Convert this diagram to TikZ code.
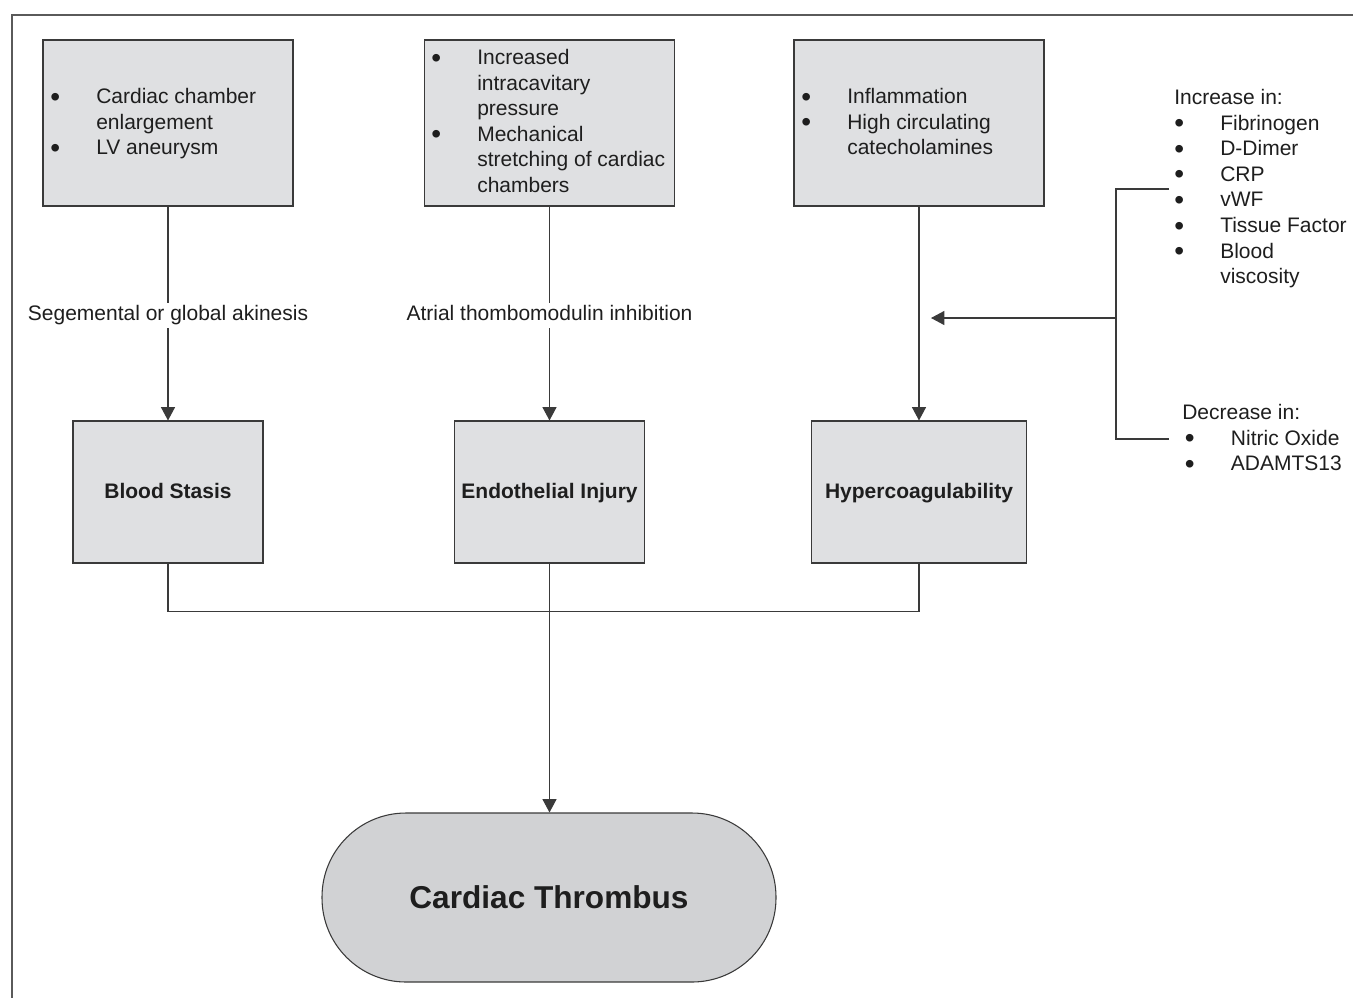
\documentclass[tikz,border=0pt]{standalone}
\usepackage{fontspec}
\setmainfont{Liberation Sans}
\usetikzlibrary{arrows.meta}
\definecolor{boxfill}{HTML}{DFE0E2}
\definecolor{thfill}{HTML}{D1D2D4}
\definecolor{edge}{HTML}{3A3A3A}
\definecolor{ink}{HTML}{1E1E1E}
\definecolor{framec}{HTML}{5A5A5A}
\newcommand\blist[1]{\begin{tabular}[t]{@{}p{34.5pt}@{}l@{}}#1\end{tabular}}
\newcommand\bul{\raisebox{-1.9pt}{\fontsize{21}{21}\selectfont •}}
\begin{document}
\begin{tikzpicture}[x=0.75pt,y=-0.75pt,
  every node/.style={font=\fontsize{15.75}{19.2}\selectfont, text=ink},
  box/.style={draw=edge, fill=boxfill, line width=0.8pt, inner sep=0pt, rectangle},
  list/.style={anchor=base west, inner sep=0pt},
  lbl/.style={font=\fontsize{15.75}{19.2}\selectfont\bfseries, text height=11.4pt, text depth=1.5pt},
  conn/.style={draw=edge, line width=0.8pt},
  arr/.style={conn, -{Triangle[length=10pt,width=10.5pt]}},
  onl/.style={fill=white, inner sep=2pt, text height=11.4pt, text depth=3.3pt, yshift=-1.5pt}
]
\useasboundingbox (0,0) rectangle (1353,997);
\clip (0,0) rectangle (1353,997);
\draw[framec, line width=1.5pt] (12,15) rectangle (1380,1020);

% top boxes
\node[box, minimum width=187.5pt, minimum height=124.5pt] (b1) at (168,123) {};
\node[box, minimum width=187.5pt, minimum height=124.5pt] (b2) at (549.5,123) {};
\node[box, minimum width=187.5pt, minimum height=124.5pt] (b3) at (919,123) {};

\node[list] (t1) at (50,103.5) {\blist{\bul & Cardiac chamber\\ & enlargement\\ \bul & LV aneurysm}};
\node[list] (t2) at (431,64.5) {\blist{\bul & Increased\\ & intracavitary\\ & pressure\\ \bul & Mechanical\\ & stretching of cardiac\\ & chambers}};
\node[list] (t3) at (801,103.5) {\blist{\bul & Inflammation\\ \bul & High circulating\\ & catecholamines}};

% middle boxes
\node[box, lbl, minimum width=142.5pt, minimum height=106.5pt] (b4) at (168,492) {Blood Stasis};
\node[box, lbl, minimum width=142.5pt, minimum height=106.5pt] (b5) at (549.5,492) {Endothelial Injury};
\node[box, lbl, minimum width=161.25pt, minimum height=106.5pt] (b6) at (919,492) {Hypercoagulability};

% thrombus
\node[draw=edge, fill=thfill, line width=0.8pt, rounded corners=63pt,
      minimum width=340.5pt, minimum height=126.75pt, inner sep=0pt,
      font=\fontsize{23.7}{28}\selectfont\bfseries] (th) at (549,897.5) {Cardiac Thrombus};

% right lists
\node[list] (inc) at (1174,104.5) {\blist{\multicolumn{2}{@{}l@{}}{Increase in:}\\ \bul & Fibrinogen\\ \bul & D-Dimer\\ \bul & CRP\\ \bul & vWF\\ \bul & Tissue Factor\\ \bul & Blood\\ & viscosity}};
\node[list] (dec) at (1182,419.5) {\blist{\multicolumn{2}{@{}l@{}}{Decrease in:}\\ \hspace*{2pt}\bul & \hspace*{2pt}Nitric Oxide\\ \hspace*{2pt}\bul & \hspace*{2pt}ADAMTS13}};

% connectors
\draw[arr] (b1) -- node[onl] (l1) {Segemental or global akinesis} (b4);
\draw[arr] (b2) -- node[onl] (l2) {Atrial thombomodulin inhibition} (b5);
\draw[arr] (b3) -- (b6);
\draw[conn] (b4.south) -- ++(0,48) -| (b6.south);
\draw[arr] (b5.south) -- (b5.south |- th.north);

\coordinate (brT) at (1169,189);
\coordinate (brB) at (1169,439);
\coordinate (brJ) at (1116,318);
\coordinate (brTip) at (931,318);
\draw[conn] (brT) -| (brJ) |- (brB);
\draw[arr] (brJ) -- (brTip);
\end{tikzpicture}
\end{document}
